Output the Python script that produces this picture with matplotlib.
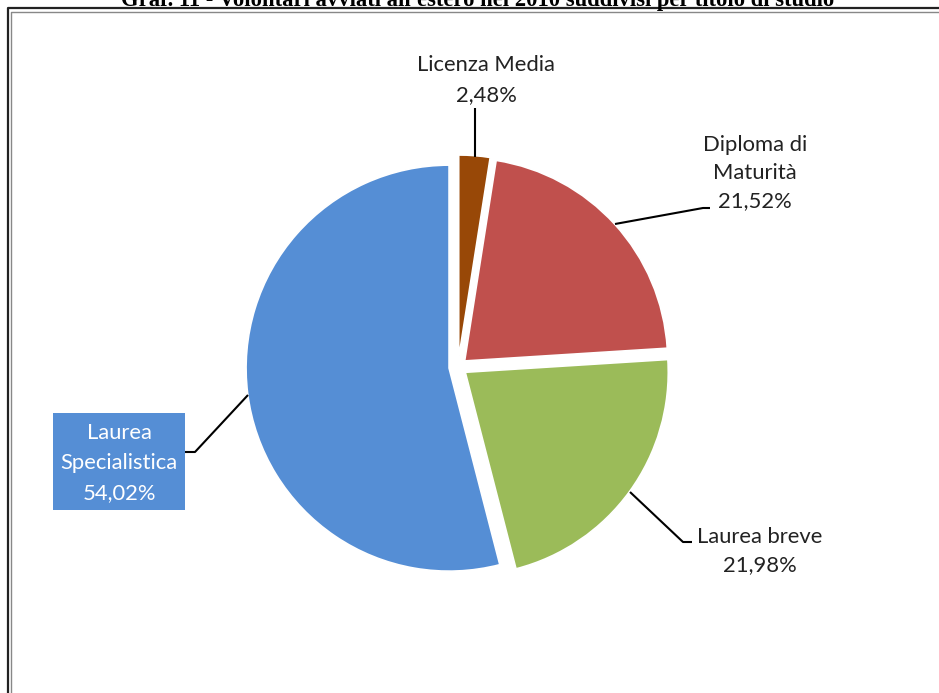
import matplotlib
matplotlib.use("Agg")
import matplotlib.pyplot as plt
from matplotlib.patches import Rectangle
from matplotlib.lines import Line2D

# ---- data ----
categories = ["Licenza Media", "Diploma di\nMaturità", "Laurea breve", "Laurea\nSpecialistica"]
values = [2.48, 21.52, 21.98, 54.02]
colors = ["#984807", "#C0504D", "#9BBB59", "#558ED5"]
title = "Graf. 11 - Volontari avviati all'estero nel 2010 suddivisi per titolo di studio"

W, H = 939, 693
fig = plt.figure(figsize=(W / 100, H / 100), dpi=100)
ax = fig.add_axes([0, 0, 1, 1])

def P(x, y):
    return x, H - y

FONT = "Lato"
FS = 15.8
LS = 1.62

cx, cy = P(458, 367)
R = 203
ax.pie(values, colors=colors, startangle=90, counterclock=False,
       explode=[9] * 4, radius=R, center=(cx, cy),
       wedgeprops=dict(edgecolor="white", linewidth=1.2))
ax.set_xlim(0, W)
ax.set_ylim(0, H)
ax.set_aspect("auto")
ax.axis("off")

def pct(v):
    return f"{v:.2f}".replace(".", ",") + "%"

def leader(pts):
    xs = [p[0] for p in pts]
    ys = [H - p[1] for p in pts]
    ax.add_line(Line2D(xs, ys, color="black", lw=1.5, solid_capstyle="butt"))

TC = "#222222"
# Licenza Media
ax.text(*P(486, 80), categories[0] + "\n" + pct(values[0]), ha="center", va="center",
        fontsize=FS, family=FONT, color=TC, linespacing=LS)
leader([(475, 108), (475, 157)])

# Diploma di Maturità
ax.text(*P(755, 173), categories[1] + "\n" + pct(values[1]), ha="center", va="center",
        fontsize=FS, family=FONT, color=TC, linespacing=1.52)
leader([(615, 224), (703, 208), (710, 208)])

# Laurea breve
ax.text(*P(760, 551), categories[2] + "\n" + pct(values[2]), ha="center", va="center",
        fontsize=FS, family=FONT, color=TC, linespacing=1.55)
leader([(630, 492), (683, 542), (692, 542)])

# Laurea Specialistica (boxed)
ax.add_patch(Rectangle(P(53, 510), 132, 97, facecolor=colors[3], edgecolor="none"))
ax.text(*P(119, 463), categories[3] + "\n" + pct(values[3]), ha="center", va="center",
        fontsize=FS, family=FONT, color="white", linespacing=LS)
leader([(185, 452), (195, 452), (248, 395)])

# frame (double line)
ax.add_line(Line2D([7.5, 7.5, W], [0, H - 8, H - 8], color="#222222", lw=1.6))
ax.add_line(Line2D([11, 11, W], [0, H - 11.5, H - 11.5], color="#888888", lw=1.0))

# title (cut off at top, as in the source image)
ax.text(*P(478, 6.0), title, ha="center", va="baseline", fontsize=16.3,
        family="Liberation Serif", weight="bold", color="black")

fig.savefig("out.png", dpi=100)
